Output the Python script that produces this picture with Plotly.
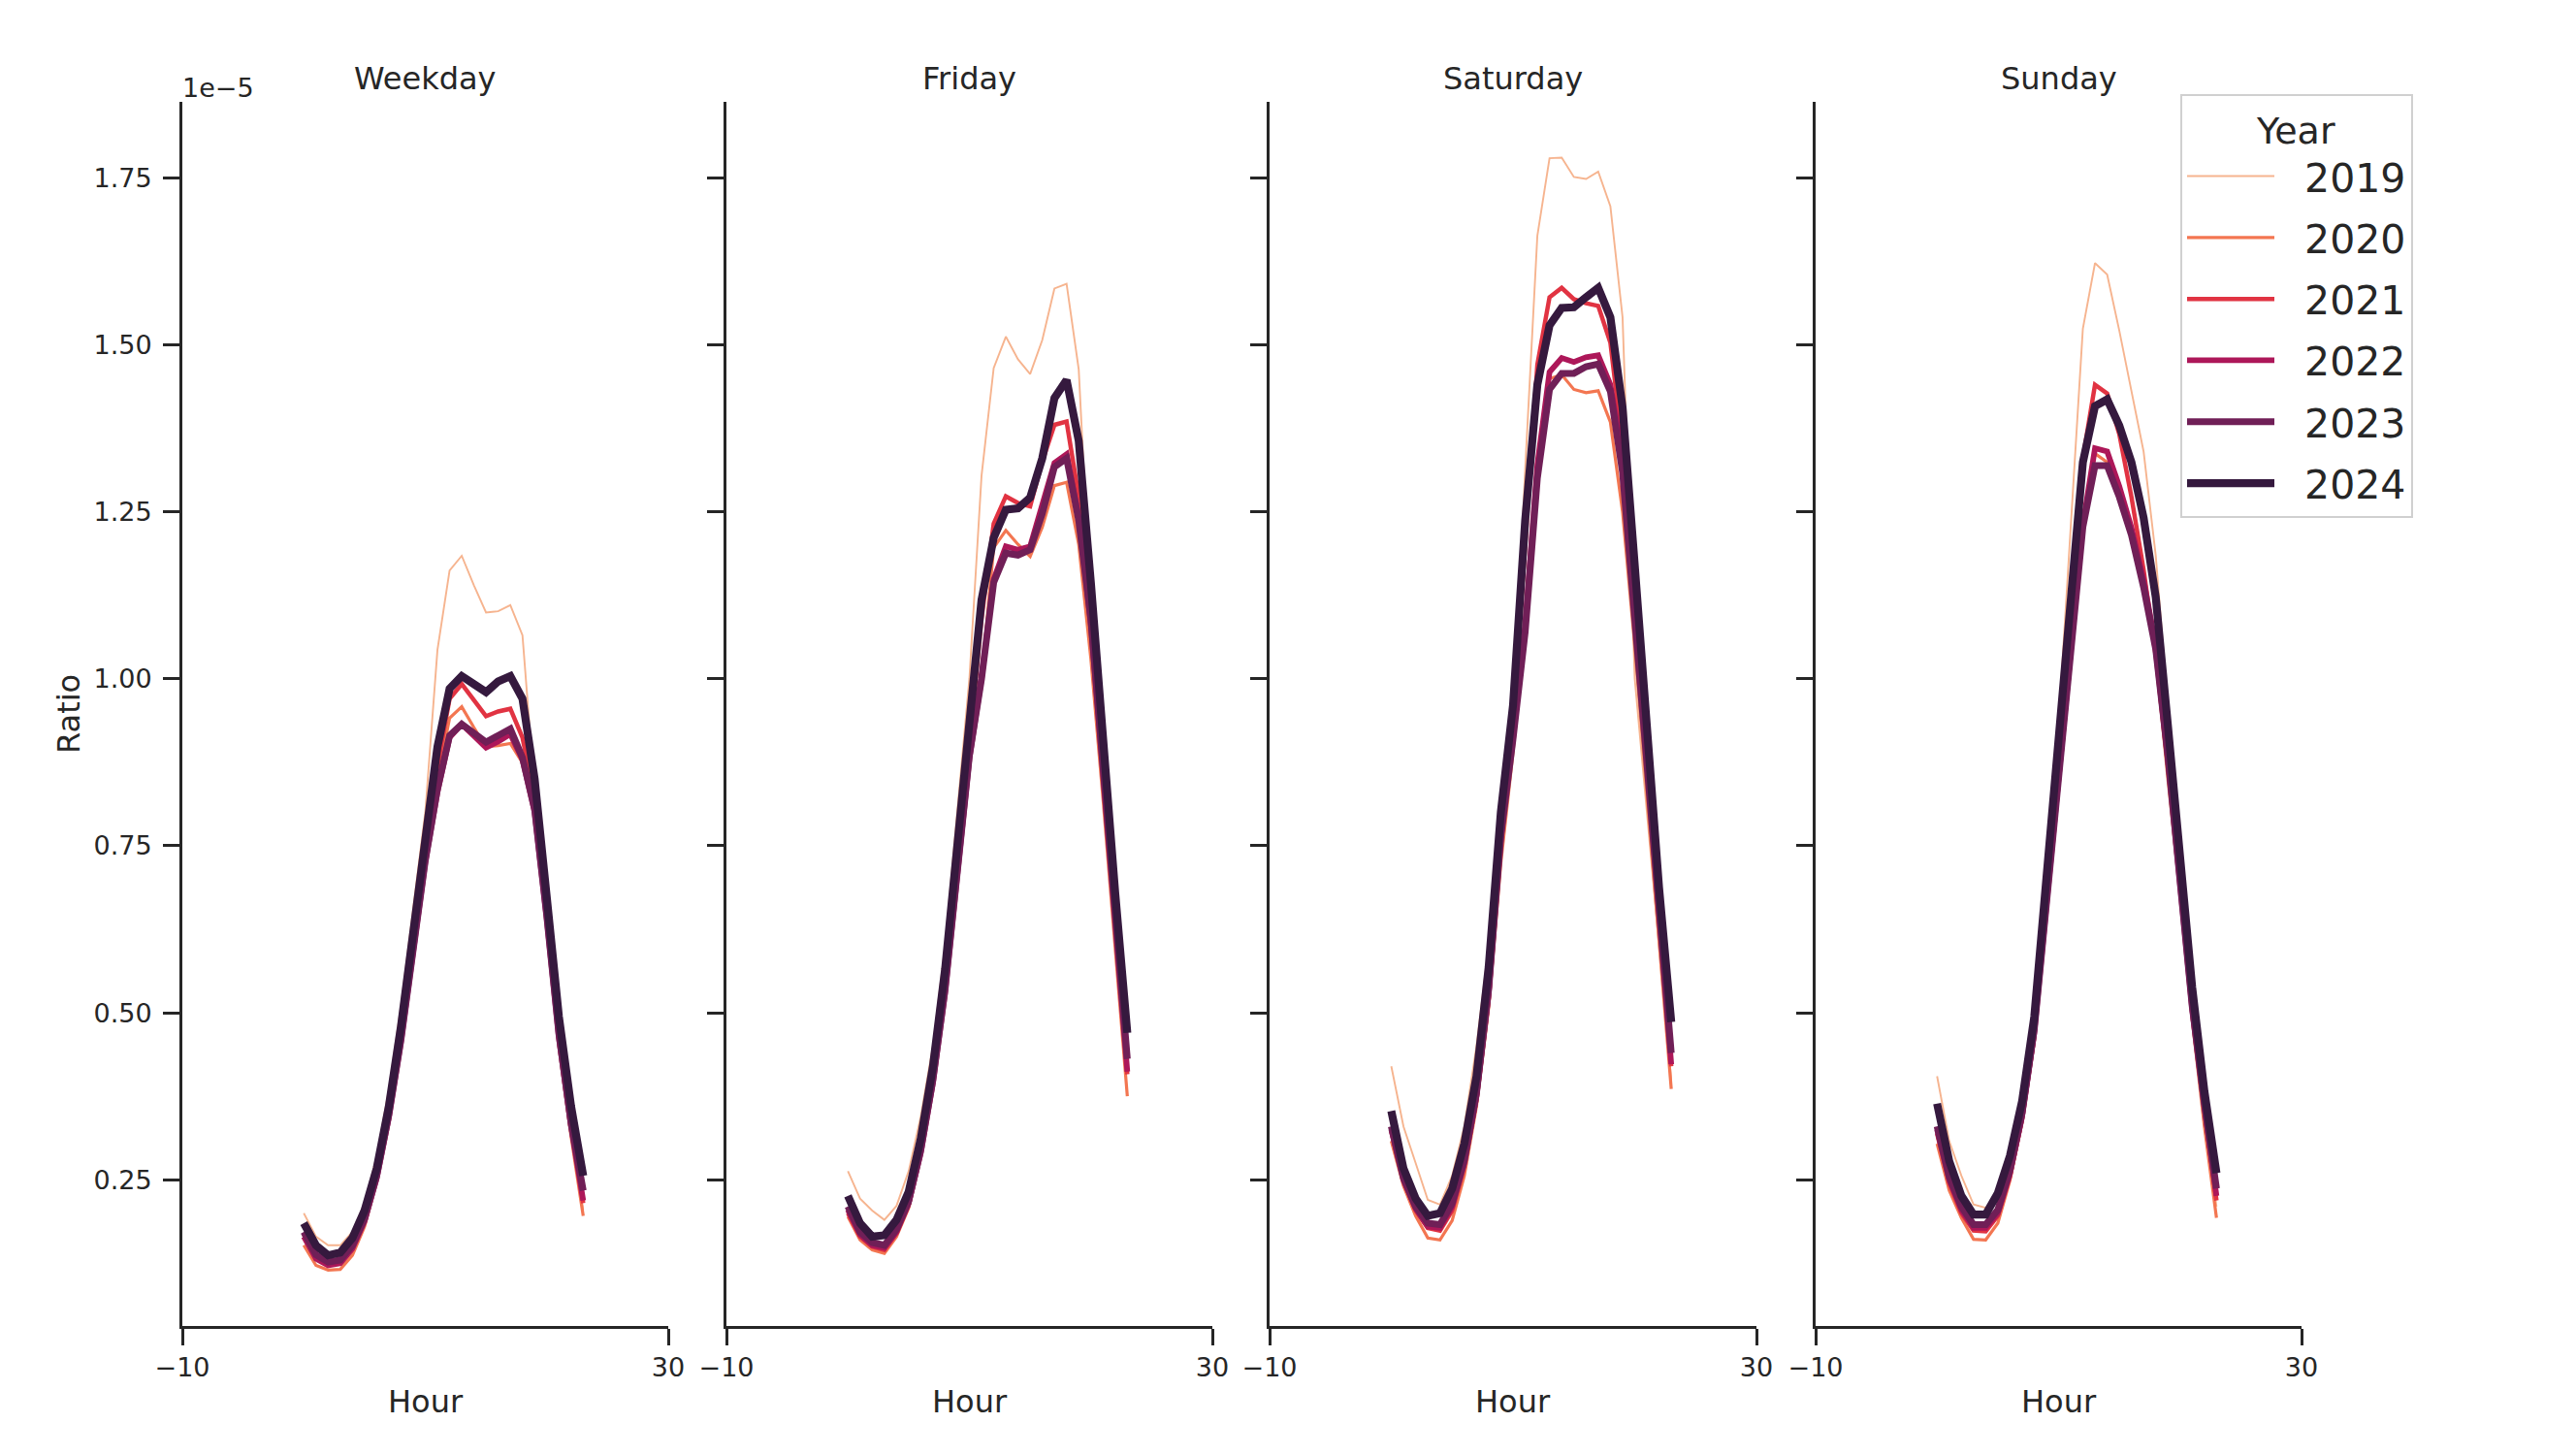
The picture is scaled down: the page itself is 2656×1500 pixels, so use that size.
import plotly.graph_objects as go

W, H = 2656, 1500

hours = list(range(24))
years = [2019, 2020, 2021, 2022, 2023, 2024]
panels = ["Weekday", "Friday", "Saturday", "Sunday"]
SCALE = 1e-5  # values below are in units of 1e-5

weekday_2019 = [0.200, 0.165, 0.152, 0.152, 0.172, 0.215, 0.285, 0.385, 0.510, 0.655, 0.800, 1.043, 1.162, 1.184, 1.140, 1.099, 1.101, 1.110, 1.065, 0.830, 0.650, 0.470, 0.320, 0.205]
weekday_2020 = [0.152, 0.122, 0.115, 0.116, 0.137, 0.180, 0.248, 0.340, 0.455, 0.585, 0.725, 0.850, 0.941, 0.958, 0.927, 0.898, 0.900, 0.903, 0.874, 0.800, 0.630, 0.450, 0.315, 0.196]
weekday_2021 = [0.168, 0.135, 0.125, 0.128, 0.150, 0.190, 0.255, 0.345, 0.460, 0.590, 0.730, 0.870, 0.970, 0.992, 0.968, 0.944, 0.951, 0.955, 0.912, 0.820, 0.650, 0.465, 0.330, 0.215]
weekday_2022 = [0.165, 0.132, 0.122, 0.125, 0.147, 0.188, 0.252, 0.343, 0.457, 0.585, 0.725, 0.830, 0.912, 0.932, 0.915, 0.897, 0.906, 0.917, 0.879, 0.800, 0.640, 0.462, 0.330, 0.219]
weekday_2023 = [0.172, 0.138, 0.127, 0.130, 0.152, 0.192, 0.256, 0.347, 0.460, 0.588, 0.728, 0.835, 0.915, 0.932, 0.920, 0.905, 0.915, 0.925, 0.882, 0.805, 0.645, 0.468, 0.335, 0.234]
weekday_2024 = [0.185, 0.152, 0.137, 0.141, 0.163, 0.204, 0.267, 0.360, 0.480, 0.613, 0.755, 0.898, 0.985, 1.004, 0.992, 0.980, 0.996, 1.004, 0.970, 0.850, 0.673, 0.494, 0.360, 0.256]

friday_2019 = [0.263, 0.222, 0.204, 0.190, 0.211, 0.263, 0.345, 0.450, 0.600, 0.800, 1.000, 1.304, 1.465, 1.512, 1.478, 1.456, 1.507, 1.584, 1.591, 1.463, 1.100, 0.850, 0.620, 0.410]
friday_2020 = [0.195, 0.160, 0.145, 0.140, 0.165, 0.208, 0.285, 0.390, 0.520, 0.700, 0.880, 1.000, 1.196, 1.222, 1.201, 1.183, 1.227, 1.289, 1.294, 1.201, 1.030, 0.820, 0.600, 0.375]
friday_2021 = [0.200, 0.165, 0.150, 0.145, 0.170, 0.212, 0.290, 0.395, 0.530, 0.710, 0.900, 1.090, 1.232, 1.273, 1.263, 1.258, 1.325, 1.380, 1.385, 1.273, 1.100, 0.870, 0.640, 0.408]
friday_2022 = [0.205, 0.168, 0.152, 0.148, 0.172, 0.215, 0.290, 0.395, 0.530, 0.705, 0.880, 1.000, 1.149, 1.198, 1.193, 1.198, 1.258, 1.323, 1.336, 1.242, 1.080, 0.860, 0.640, 0.412]
friday_2023 = [0.210, 0.172, 0.156, 0.152, 0.176, 0.218, 0.295, 0.400, 0.535, 0.710, 0.885, 1.000, 1.144, 1.188, 1.185, 1.193, 1.247, 1.317, 1.330, 1.237, 1.090, 0.870, 0.655, 0.431]
friday_2024 = [0.226, 0.185, 0.165, 0.167, 0.190, 0.232, 0.312, 0.420, 0.565, 0.755, 0.930, 1.118, 1.211, 1.253, 1.255, 1.271, 1.330, 1.420, 1.447, 1.356, 1.144, 0.900, 0.680, 0.470]

saturday_2019 = [0.420, 0.330, 0.275, 0.220, 0.213, 0.256, 0.330, 0.450, 0.600, 0.740, 0.920, 1.314, 1.663, 1.779, 1.780, 1.751, 1.748, 1.759, 1.707, 1.541, 1.000, 0.800, 0.600, 0.400]
saturday_2020 = [0.308, 0.241, 0.196, 0.163, 0.160, 0.189, 0.256, 0.360, 0.508, 0.724, 0.890, 1.070, 1.330, 1.449, 1.455, 1.433, 1.428, 1.431, 1.384, 1.250, 1.050, 0.830, 0.600, 0.386]
saturday_2021 = [0.323, 0.248, 0.204, 0.178, 0.174, 0.204, 0.270, 0.370, 0.520, 0.750, 0.930, 1.200, 1.470, 1.571, 1.585, 1.568, 1.562, 1.558, 1.503, 1.350, 1.100, 0.880, 0.640, 0.420]
saturday_2022 = [0.325, 0.250, 0.207, 0.180, 0.178, 0.210, 0.275, 0.375, 0.530, 0.760, 0.920, 1.080, 1.320, 1.459, 1.480, 1.474, 1.481, 1.484, 1.440, 1.333, 1.100, 0.880, 0.640, 0.423]
saturday_2023 = [0.330, 0.253, 0.210, 0.185, 0.183, 0.215, 0.280, 0.380, 0.535, 0.765, 0.910, 1.070, 1.300, 1.433, 1.457, 1.457, 1.467, 1.471, 1.430, 1.309, 1.090, 0.880, 0.650, 0.440]
saturday_2024 = [0.353, 0.267, 0.222, 0.196, 0.200, 0.237, 0.304, 0.405, 0.568, 0.800, 0.960, 1.237, 1.440, 1.529, 1.555, 1.556, 1.571, 1.585, 1.541, 1.406, 1.170, 0.926, 0.687, 0.486]

sunday_2019 = [0.405, 0.308, 0.256, 0.213, 0.208, 0.226, 0.290, 0.375, 0.500, 0.700, 0.930, 1.231, 1.524, 1.622, 1.605, 1.521, 1.433, 1.340, 1.184, 0.956, 0.700, 0.500, 0.350, 0.210]
sunday_2020 = [0.304, 0.234, 0.193, 0.161, 0.160, 0.185, 0.249, 0.338, 0.457, 0.643, 0.840, 1.020, 1.230, 1.337, 1.324, 1.277, 1.215, 1.132, 1.034, 0.850, 0.680, 0.490, 0.330, 0.193]
sunday_2021 = [0.319, 0.245, 0.200, 0.174, 0.173, 0.196, 0.255, 0.340, 0.465, 0.660, 0.870, 1.070, 1.330, 1.440, 1.427, 1.366, 1.272, 1.163, 1.034, 0.870, 0.700, 0.510, 0.355, 0.219]
sunday_2022 = [0.325, 0.250, 0.205, 0.178, 0.178, 0.200, 0.260, 0.345, 0.470, 0.660, 0.860, 1.030, 1.231, 1.345, 1.340, 1.288, 1.226, 1.148, 1.049, 0.880, 0.690, 0.505, 0.360, 0.226]
sunday_2023 = [0.330, 0.255, 0.210, 0.183, 0.183, 0.205, 0.265, 0.350, 0.475, 0.665, 0.860, 1.030, 1.227, 1.319, 1.319, 1.272, 1.215, 1.137, 1.044, 0.885, 0.695, 0.510, 0.365, 0.237]
sunday_2024 = [0.364, 0.278, 0.226, 0.198, 0.198, 0.230, 0.286, 0.368, 0.494, 0.702, 0.900, 1.100, 1.324, 1.408, 1.418, 1.379, 1.324, 1.241, 1.122, 0.930, 0.717, 0.538, 0.383, 0.260]

y_ticks = [0.25, 0.50, 0.75, 1.00, 1.25, 1.50, 1.75]
y_tick_labels = ["0.25", "0.50", "0.75", "1.00", "1.25", "1.50", "1.75"]
x_ticks = [-10, 30]
x_tick_labels = ["\u221210", "30"]

data = {
    "Weekday": [weekday_2019, weekday_2020, weekday_2021, weekday_2022, weekday_2023, weekday_2024],
    "Friday": [friday_2019, friday_2020, friday_2021, friday_2022, friday_2023, friday_2024],
    "Saturday": [saturday_2019, saturday_2020, saturday_2021, saturday_2022, saturday_2023, saturday_2024],
    "Sunday": [sunday_2019, sunday_2020, sunday_2021, sunday_2022, sunday_2023, sunday_2024],
}

colors = ["#f6b48f", "#f37651", "#e13342", "#ad1759", "#701f57", "#35193e"]
widths = [1.9, 3.2, 4.5, 5.8, 7.0, 8.2]

INK = "#262626"
FONT = "DejaVu Sans"

# panel pixel geometry
px_x = [(188, 689), (749, 1250), (1309, 1811), (1872, 2373)]
top_px, bot_px = 105, 1367
ydom = [1 - bot_px / H, 1 - top_px / H]
yrange = [0.0312 * SCALE, 1.8634 * SCALE]

fig = go.Figure()

for i, p in enumerate(panels):
    xa = "x" if i == 0 else f"x{i+1}"
    ya = "y" if i == 0 else f"y{i+1}"
    for j, yr in enumerate(years):
        vals = [v * SCALE for v in data[p][j]]
        fig.add_trace(go.Scatter(
            x=hours, y=vals, mode="lines",
            line=dict(color=colors[j], width=widths[j]),
            name="\u00a0\u00a0" + str(yr), legendgroup=str(yr), showlegend=(i == 0),
            xaxis=xa, yaxis=ya,
        ))

layout = dict(
    width=W, height=H, autosize=False,
    margin=dict(l=0, r=0, t=0, b=0, pad=0, autoexpand=False),
    paper_bgcolor="white", plot_bgcolor="white",
    font=dict(family=FONT, color=INK, size=27),
    showlegend=True,
    legend=dict(
        x=2248 / W, y=1 - 97 / H, xanchor="left", yanchor="top",
        bordercolor="#d0d0d0", borderwidth=2, bgcolor="white",
        font=dict(size=41, family=FONT, color=INK),
        title=dict(text="Year", font=dict(size=38, family=FONT, color=INK), side="top center"),
        itemwidth=90, tracegroupgap=7,
    ),
)

annotations = []
for i, p in enumerate(panels):
    xk = "xaxis" if i == 0 else f"xaxis{i+1}"
    yk = "yaxis" if i == 0 else f"yaxis{i+1}"
    x0, x1 = px_x[i]
    layout[xk] = dict(
        domain=[x0 / W, x1 / W], anchor="y" if i == 0 else f"y{i+1}",
        range=[-10, 30], tickvals=x_ticks, ticktext=x_tick_labels,
        showline=True, linecolor=INK, linewidth=3, mirror=False,
        ticks="outside", ticklen=17, tickwidth=3, tickcolor=INK,
        showgrid=False, zeroline=False, automargin=False,
        tickfont=dict(size=27, family=FONT, color=INK),
    )
    layout[yk] = dict(
        domain=ydom, anchor="x" if i == 0 else f"x{i+1}",
        range=yrange, tickvals=[t * SCALE for t in y_ticks], ticktext=y_tick_labels,
        showticklabels=(i == 0),
        showline=True, linecolor=INK, linewidth=3,
        ticks="outside", ticklen=17, tickwidth=3, tickcolor=INK,
        showgrid=False, zeroline=False, ticklabelstandoff=6, automargin=False,
        tickfont=dict(size=27, family=FONT, color=INK),
    )
    annotations.append(dict(
        text=p, x=(x0 + x1) / 2 / W, y=1 - 81 / H, xref="paper", yref="paper",
        xanchor="center", yanchor="middle", showarrow=False,
        font=dict(size=32, family=FONT, color=INK),
    ))
    annotations.append(dict(
        text="Hour", x=(x0 + x1) / 2 / W, y=1 - 1445 / H, xref="paper", yref="paper",
        xanchor="center", yanchor="middle", showarrow=False,
        font=dict(size=32, family=FONT, color=INK),
    ))

annotations.append(dict(
    text="Ratio", x=71 / W, y=1 - 736 / H, xref="paper", yref="paper",
    xanchor="center", yanchor="middle", showarrow=False, textangle=-90,
    font=dict(size=32, family=FONT, color=INK),
))
annotations.append(dict(
    text="1e\u22125", x=186 / W, y=1 - 90 / H, xref="paper", yref="paper",
    xanchor="left", yanchor="middle", showarrow=False,
    font=dict(size=27, family=FONT, color=INK),
))
layout["annotations"] = annotations

fig.update_layout(**layout)
fig.write_html("out.html")
